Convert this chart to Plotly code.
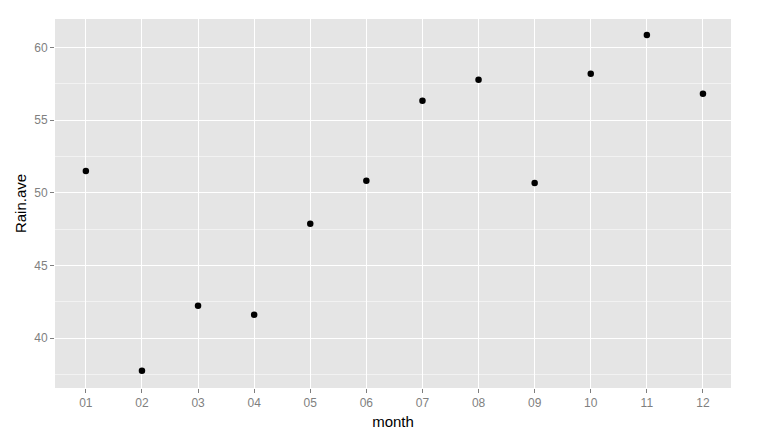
import plotly.graph_objects as go

months = ["01", "02", "03", "04", "05", "06", "07", "08", "09", "10", "11", "12"]
rain_ave = [51.5, 37.77, 42.24, 41.62, 47.88, 50.83, 56.33, 57.77, 50.67, 58.19, 60.85, 56.81]
y_ticks = [40, 45, 50, 55, 60]
y_minor = [37.5, 42.5, 47.5, 52.5, 57.5]

fig = go.Figure()
fig.add_trace(go.Scatter(
    x=months, y=rain_ave, mode="markers",
    marker=dict(color="black", size=6.5),
    hoverinfo="x+y", showlegend=False,
))

tick_font = dict(family="Liberation Sans, Arial, sans-serif", size=12, color="#7f7f7f")
title_font = dict(family="Liberation Sans, Arial, sans-serif", size=15, color="black")

# page body has an 8px default margin, so the figure is sized to fit inside it
fig.update_layout(
    width=752, height=433,
    margin=dict(l=47, r=29, t=11, b=53),
    paper_bgcolor="white",
    plot_bgcolor="#e5e5e5",
    xaxis=dict(
        type="category", categoryorder="array", categoryarray=months,
        range=[-0.55, 11.5], automargin=False,
        showgrid=True, gridcolor="white", gridwidth=1.3,
        ticks="outside", ticklen=4, tickwidth=1, tickcolor="#7f7f7f",
        tickfont=tick_font, zeroline=False, showline=False,
        title=dict(text="month", font=title_font, standoff=7),
    ),
    yaxis=dict(
        range=[36.58, 61.95], automargin=False,
        tickvals=y_ticks, ticktext=[str(v) for v in y_ticks],
        showgrid=True, gridcolor="white", gridwidth=1.3,
        minor=dict(tickvals=y_minor, showgrid=True, gridcolor="#f2f2f2", gridwidth=0.8, ticks=""),
        ticks="outside", ticklen=4, tickwidth=1, tickcolor="#7f7f7f",
        tickfont=tick_font, zeroline=False, showline=False,
        title=dict(text="Rain.ave", font=title_font, standoff=3),
    ),
)

fig.write_html("out.html")
